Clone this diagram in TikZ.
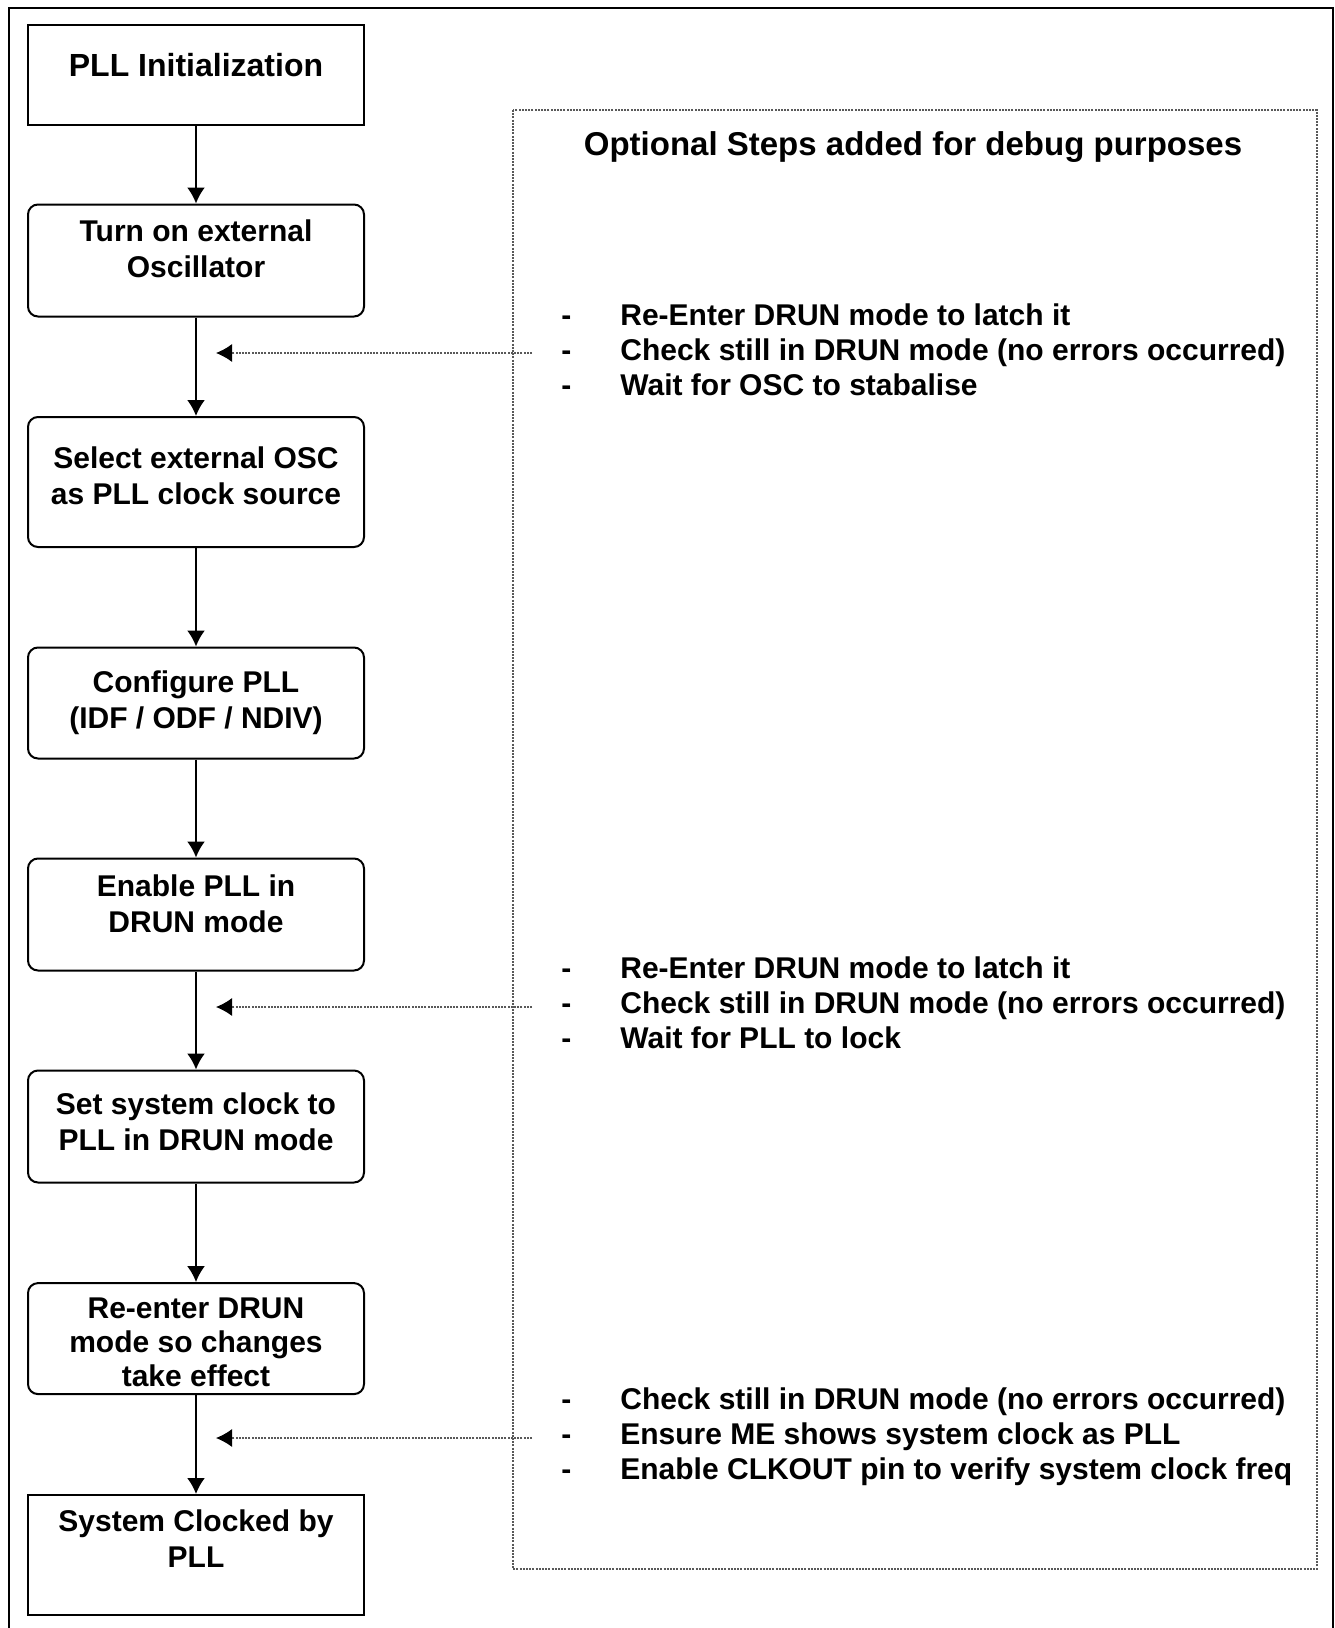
\documentclass[tikz,border=0pt]{standalone}
\usepackage{fontspec}
\setmainfont{Liberation Sans}
\usetikzlibrary{arrows.meta}

\begin{document}
\begin{tikzpicture}[>={Latex[length=8pt,width=9pt]}, x=0.5pt, y=-0.5pt,
	flowbox/.style={draw, line width=1pt, rounded corners=5pt, minimum width=168pt, inner sep=0pt, align=center, font=\bfseries\fontsize{15}{18}\selectfont},
	endbox/.style={flowbox, sharp corners},
	noteline/.style={line width=0.6pt, black!65, dash pattern=on 1pt off 0.6pt},
	notearrow/.style={noteline, -{Latex[length=8pt,width=9pt,black]}},
	notetext/.style={anchor=west, inner sep=0pt, font=\bfseries\fontsize{15}{17.5}\selectfont}]
			\useasboundingbox (0,0) rectangle (1334,1628);
			\draw[line width=1pt] (9,8) rectangle (1333,1660);
			
			\node[endbox, minimum height=50pt, text depth=10pt, font=\bfseries\fontsize{16}{18}\selectfont] (init) at (196,75) {PLL Initialization};
			\node[flowbox, minimum height=56pt] (osc) at (196,260.5) {Turn on external\\Oscillator\\[-6.6pt]\mbox{}};
			\node[flowbox, minimum height=65pt] (src) at (196,482) {Select external OSC\\as PLL clock source\\[-11.8pt]\mbox{}};
			\node[flowbox, minimum height=55.5pt] (cfg) at (196,703) {Configure PLL\\(IDF / ODF / NDIV)};
			\node[flowbox, minimum height=56pt] (ena) at (196,914.5) {Enable PLL in\\DRUN mode\\[-7.6pt]\mbox{}};
			\node[flowbox, minimum height=56pt] (sys) at (196,1126.5) {Set system clock to\\PLL in DRUN mode\\[-12.8pt]\mbox{}};
			\node[flowbox, minimum height=55.5pt, font=\bfseries\fontsize{15}{17}\selectfont] (reent) at (196,1338.6) {\rule{0pt}{14pt}Re-enter DRUN\\mode so changes\\take effect};
			\node[endbox, minimum height=60pt] (done) at (196,1555) {System Clocked by\\PLL\\[-2pt]\mbox{}};
			
			\draw[->, line width=1pt](init) edge (osc);
			\draw[->, line width=1pt](osc) edge (src);
			\draw[->, line width=1pt](src) edge (cfg);
			\draw[->, line width=1pt](cfg) edge (ena);
			\draw[->, line width=1pt](ena) edge (sys);
			\draw[->, line width=1pt](sys) edge (reent);
			\draw[->, line width=1pt](reent) edge (done);
			
			\draw[noteline] (513,110) rectangle (1317,1569);
			\node[font=\bfseries\fontsize{16.5}{18}\selectfont, inner sep=0pt] (debug) at (913,147) {Optional Steps added for debug purposes};
			
			\node[notetext] (opt1) at (561,353) {\begin{tabular}{@{}l@{\hspace{24.5pt}}l@{}}
				- & Re-Enter DRUN mode to latch it\\
				- & Check still in DRUN mode (no errors occurred)\\
				- & Wait for OSC to stabalise
			\end{tabular}};
			\node[notetext] (opt2) at (561,1006) {\begin{tabular}{@{}l@{\hspace{24.5pt}}l@{}}
				- & Re-Enter DRUN mode to latch it\\
				- & Check still in DRUN mode (no errors occurred)\\
				- & Wait for PLL to lock
			\end{tabular}};
			\node[notetext] (opt3) at (561,1437) {\begin{tabular}{@{}l@{\hspace{24.5pt}}l@{}}
				- & Check still in DRUN mode (no errors occurred)\\
				- & Ensure ME shows system clock as PLL\\
				- & Enable CLKOUT pin to verify system clock freq
			\end{tabular}};
			
			\coordinate (from1) at (532,353);
			\coordinate (to1) at (216,353);
			\coordinate (from2) at (532,1007);
			\coordinate (to2) at (216,1007);
			\coordinate (from3) at (532,1438);
			\coordinate (to3) at (216,1438);
			
			\draw[notearrow] (from1) -- (to1);
			\draw[notearrow] (from2) -- (to2);
			\draw[notearrow] (from3) -- (to3);
		\end{tikzpicture}
\end{document}
